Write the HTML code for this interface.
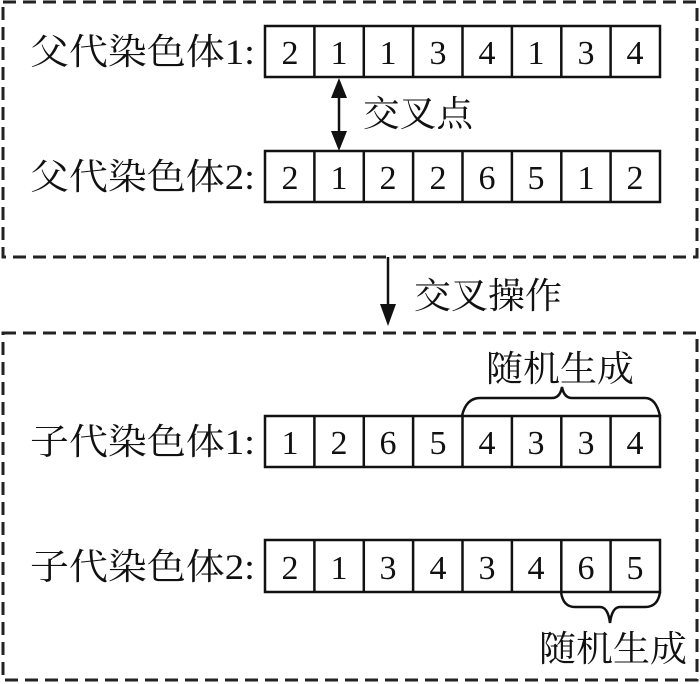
<!DOCTYPE html>
<html><head><meta charset="utf-8"><style>
html,body{margin:0;padding:0;background:#fff;}
svg{display:block}
text{fill:#111}
.c{font-family:"Liberation Serif",serif;font-size:34px;text-anchor:middle}
.l{font-family:"Liberation Serif","Noto Serif CJK SC",serif;font-size:36px}
</style></head><body>
<svg width="700" height="684" viewBox="0 0 700 684" xmlns="http://www.w3.org/2000/svg">
<g fill="none" stroke="#222" stroke-width="3" stroke-dasharray="13,7">
<rect x="3" y="2" width="694" height="255"/>
<rect x="3" y="333" width="694" height="347"/>
</g>
<g stroke="#111" stroke-width="2.5" fill="#fff">
<rect x="265" y="26" width="395" height="51"/>
<rect x="265" y="151" width="395" height="51"/>
<rect x="265" y="416" width="395" height="51"/>
<rect x="265" y="540" width="395" height="52"/>
</g>
<g stroke="#111" stroke-width="2.5">
<path d="M314.4 26V77M363.8 26V77M413.1 26V77M462.5 26V77M511.9 26V77M561.3 26V77M610.6 26V77"/>
<path d="M314.4 151V202M363.8 151V202M413.1 151V202M462.5 151V202M511.9 151V202M561.3 151V202M610.6 151V202"/>
<path d="M314.4 416V467M363.8 416V467M413.1 416V467M462.5 416V467M511.9 416V467M561.3 416V467M610.6 416V467"/>
<path d="M314.4 540V592M363.8 540V592M413.1 540V592M462.5 540V592M511.9 540V592M561.3 540V592M610.6 540V592"/>
</g>
<g>
<text x="290" y="64" class="c">2</text><text x="339" y="64" class="c">1</text><text x="388" y="64" class="c">1</text><text x="438" y="64" class="c">3</text><text x="487" y="64" class="c">4</text><text x="536" y="64" class="c">1</text><text x="586" y="64" class="c">3</text><text x="635" y="64" class="c">4</text>
<text x="290" y="189" class="c">2</text><text x="339" y="189" class="c">1</text><text x="388" y="189" class="c">2</text><text x="438" y="189" class="c">2</text><text x="487" y="189" class="c">6</text><text x="536" y="189" class="c">5</text><text x="586" y="189" class="c">1</text><text x="635" y="189" class="c">2</text>
<text x="290" y="454" class="c">1</text><text x="339" y="454" class="c">2</text><text x="388" y="454" class="c">6</text><text x="438" y="454" class="c">5</text><text x="487" y="454" class="c">4</text><text x="536" y="454" class="c">3</text><text x="586" y="454" class="c">3</text><text x="635" y="454" class="c">4</text>
<text x="290" y="579" class="c">2</text><text x="339" y="579" class="c">1</text><text x="388" y="579" class="c">3</text><text x="438" y="579" class="c">4</text><text x="487" y="579" class="c">3</text><text x="536" y="579" class="c">4</text><text x="586" y="579" class="c">6</text><text x="635" y="579" class="c">5</text>
</g>
<text x="30" y="64" class="l" textLength="225" lengthAdjust="spacingAndGlyphs">父代染色体1:</text>
<text x="30" y="189" class="l" textLength="225" lengthAdjust="spacingAndGlyphs">父代染色体2:</text>
<text x="30" y="454" class="l" textLength="225" lengthAdjust="spacingAndGlyphs">子代染色体1:</text>
<text x="30" y="579" class="l" textLength="225" lengthAdjust="spacingAndGlyphs">子代染色体2:</text>
<text x="363" y="126" class="l" textLength="110" lengthAdjust="spacingAndGlyphs">交叉点</text>
<text x="414" y="308" class="l" textLength="148" lengthAdjust="spacingAndGlyphs">交叉操作</text>
<text x="486" y="381" class="l" textLength="148" lengthAdjust="spacingAndGlyphs">随机生成</text>
<text x="539" y="661" class="l" textLength="148" lengthAdjust="spacingAndGlyphs">随机生成</text>
<g stroke="#111" stroke-width="2.5" fill="none">
<path d="M339 92V136"/>
<path d="M388 257V306"/>
<path d="M462 416Q466 398 480 398H552Q560 398 562 387Q564 398 572 398H645Q656 398 660 416"/>
<path d="M561 592Q563 607 575 607H600Q608 607 610 623Q612 607 620 607H645Q658 607 660 592"/>
</g>
<g fill="#111">
<polygon points="339,78 331,98 347,98"/>
<polygon points="339,151 331,131 347,131"/>
<polygon points="388,326 380,304 396,304"/>
</g>
</svg>
</body></html>
